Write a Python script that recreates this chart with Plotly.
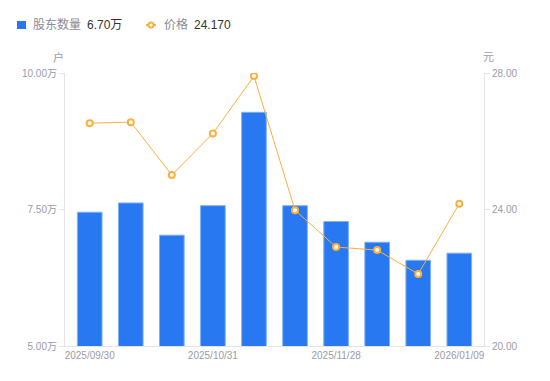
import plotly.graph_objects as go

dates = ["2025/09/30", "2025/10/10", "2025/10/20", "2025/10/31", "2025/11/10",
         "2025/11/20", "2025/11/28", "2025/12/10", "2025/12/31", "2026/01/09"]
holders_wan = [7.45, 7.62, 7.03, 7.57, 9.28, 7.57, 7.28, 6.90, 6.57, 6.70]
price = [26.53, 26.56, 25.01, 26.23, 27.91, 23.98, 22.90, 22.81, 22.11, 24.17]

left_ticks = [5.0, 7.5, 10.0]
left_ticktext = ["5.00万", "7.50万", "10.00万"]
right_ticks = [20, 24, 28]
x_label_dates = ["2025/09/30", "2025/10/31", "2025/11/28", "2026/01/09"]

tick_color = "#9b9ba8"
label_color = "#8a8a96"
value_color = "#333333"
axis_color = "#e3e3e8"
bar_color = "#2878f2"
line_color = "#fbb03b"
font_family = "Liberation Sans, Arial, Noto Sans CJK SC, sans-serif"

# figure geometry (page body has an 8px margin)
W, H = 542, 373
L, R, T, B = 57, 66, 65, 35
PW, PH = W - L - R, H - T - B


def px(fx):
    return (fx - L) / PW


def py(fy):
    return (H - B - fy) / PH


fig = go.Figure()
fig.add_trace(go.Bar(
    x=dates, y=holders_wan, name="股东数量",
    marker=dict(color=bar_color, line=dict(color="#7fb0f8", width=1)),
    width=0.6, yaxis="y", showlegend=False,
))
fig.add_trace(go.Scatter(
    x=dates, y=price, yaxis="y2", mode="lines+markers", name="价格",
    line=dict(color=line_color, width=1),
    marker=dict(symbol="circle", size=6, color="white", line=dict(color=line_color, width=2)),
    showlegend=False,
))

shapes = [
    # legend: bar swatch
    dict(type="rect", xref="paper", yref="paper",
         x0=px(9), x1=px(18), y0=py(13), y1=py(21),
         fillcolor=bar_color, line=dict(width=0)),
    # legend: line swatch
    dict(type="line", xref="paper", yref="paper",
         x0=px(138), x1=px(148), y0=py(17), y1=py(17),
         line=dict(color=line_color, width=2)),
    dict(type="circle", xref="paper", yref="paper",
         x0=px(140.5), x1=px(145.5), y0=py(14.5), y1=py(19.5),
         fillcolor="white", line=dict(color=line_color, width=2)),
]

annotations = [
    dict(text="股东数量", x=px(23), y=py(17), xref="paper", yref="paper",
         xanchor="left", yanchor="middle", showarrow=False,
         font=dict(size=12, color=label_color)),
    dict(text=f"{holders_wan[-1]:.2f}万", x=px(77), y=py(17), xref="paper", yref="paper",
         xanchor="left", yanchor="middle", showarrow=False,
         font=dict(size=12, color=value_color)),
    dict(text="价格", x=px(154), y=py(17), xref="paper", yref="paper",
         xanchor="left", yanchor="middle", showarrow=False,
         font=dict(size=12, color=label_color)),
    dict(text=f"{price[-1]:.3f}", x=px(184), y=py(17), xref="paper", yref="paper",
         xanchor="left", yanchor="middle", showarrow=False,
         font=dict(size=12, color=value_color)),
    dict(text="户", x=px(50), y=py(49), xref="paper", yref="paper",
         xanchor="center", yanchor="middle", showarrow=False,
         font=dict(size=11, color=tick_color)),
    dict(text="元", x=px(481), y=py(49), xref="paper", yref="paper",
         xanchor="center", yanchor="middle", showarrow=False,
         font=dict(size=11, color=tick_color)),
]

fig.update_layout(
    width=W, height=H,
    margin=dict(l=L, r=R, t=T, b=B, autoexpand=False),
    plot_bgcolor="white", paper_bgcolor="white",
    font=dict(family=font_family, size=10, color=tick_color),
    showlegend=False,
    bargap=0.4,
    xaxis=dict(
        type="category", categoryorder="array", categoryarray=dates,
        tickmode="array", tickvals=x_label_dates, ticktext=x_label_dates,
        showgrid=False, showline=True, linecolor=axis_color, linewidth=1,
        ticks="", tickfont=dict(size=10, color=tick_color), zeroline=False,
    ),
    yaxis=dict(
        range=[5, 10], tickmode="array", tickvals=left_ticks, ticktext=left_ticktext,
        showgrid=False, showline=True, linecolor=axis_color, linewidth=1,
        ticks="outside", ticklen=5, tickcolor=axis_color,
        tickfont=dict(size=10, color=tick_color), zeroline=False,
    ),
    yaxis2=dict(
        range=[20, 28], overlaying="y", side="right",
        tickmode="array", tickvals=right_ticks, tickformat=".2f",
        showgrid=False, showline=True, linecolor=axis_color, linewidth=1,
        ticks="outside", ticklen=5, tickcolor=axis_color,
        tickfont=dict(size=10, color=tick_color), zeroline=False,
    ),
    shapes=shapes,
    annotations=annotations,
)

fig.write_html("out.html")
